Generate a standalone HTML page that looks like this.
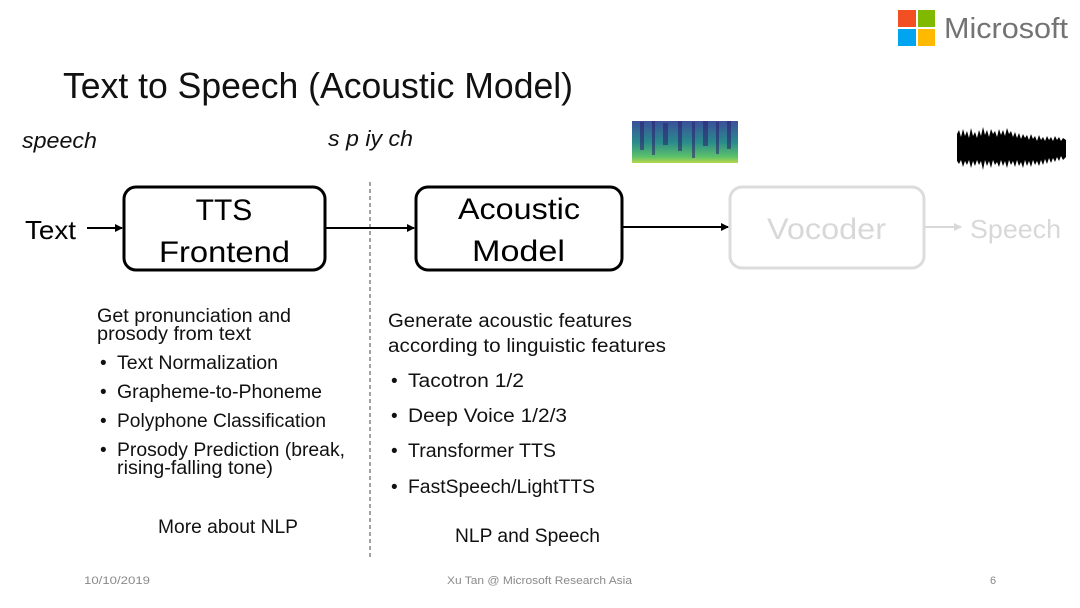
<!DOCTYPE html>
<html><head><meta charset="utf-8"><style>
html,body{margin:0;padding:0;background:#fff;width:1080px;height:608px;overflow:hidden}
svg{display:block}
text{font-family:"Liberation Sans",sans-serif}
</style></head><body>
<svg width="1080" height="608" viewBox="0 0 1080 608" xmlns="http://www.w3.org/2000/svg">
<defs>
<marker id="a" markerWidth="8" markerHeight="8" refX="7" refY="4" orient="auto" markerUnits="userSpaceOnUse"><path d="M0,0 L8,4 L0,8 z" fill="#000"/></marker>
<marker id="g" markerWidth="8" markerHeight="8" refX="7" refY="4" orient="auto" markerUnits="userSpaceOnUse"><path d="M0,0 L8,4 L0,8 z" fill="#d8d8d8"/></marker>
<linearGradient id="sp" x1="0" y1="0" x2="0" y2="1">
<stop offset="0" stop-color="#3b4f9a"/><stop offset="0.5" stop-color="#2a8a8c"/><stop offset="0.85" stop-color="#5cc06a"/><stop offset="1" stop-color="#b8d84a"/></linearGradient>
</defs>
<rect x="898" y="10" width="18" height="17" fill="#f25022"/>
<rect x="918" y="10" width="17" height="17" fill="#7fba00"/>
<rect x="898" y="29" width="18" height="17" fill="#00a4ef"/>
<rect x="918" y="29" width="17" height="17" fill="#ffb900"/>
<text x="944" y="38" font-size="29" fill="#737373" textLength="124" lengthAdjust="spacingAndGlyphs">Microsoft</text>
<text x="63" y="98" font-size="36" fill="#111" textLength="510" lengthAdjust="spacingAndGlyphs">Text to Speech (Acoustic Model)</text>
<text x="22" y="148" font-size="22" font-style="italic" fill="#111" textLength="75" lengthAdjust="spacingAndGlyphs">speech</text>
<text x="328" y="146" font-size="22" font-style="italic" fill="#111" textLength="85" lengthAdjust="spacingAndGlyphs">s p iy ch</text>
<rect x="632" y="121" width="106" height="42" fill="url(#sp)"/>
<g fill="#2a1f6e" opacity="0.55">
<rect x="640" y="122" width="4" height="28"/><rect x="652" y="121" width="3" height="34"/><rect x="663" y="123" width="5" height="22"/><rect x="678" y="121" width="4" height="30"/><rect x="692" y="122" width="3" height="36"/><rect x="703" y="121" width="5" height="25"/><rect x="716" y="122" width="3" height="32"/><rect x="727" y="121" width="4" height="28"/>
</g>
<path d="M957,134 L959,130 L961,137 L963,129 L965,136 L967,131 L969,138 L971,128 L973,136 L975,132 L977,138 L979,130 L981,136 L983,127 L985,135 L987,130 L989,137 L991,129 L993,134 L995,131 L997,137 L999,129 L1001,135 L1003,130 L1005,136 L1007,128 L1009,134 L1011,131 L1013,137 L1015,132 L1017,138 L1019,133 L1021,139 L1023,134 L1025,138 L1027,135 L1029,140 L1031,134 L1033,139 L1035,136 L1037,141 L1039,135 L1041,140 L1043,137 L1045,141 L1047,136 L1049,140 L1051,137 L1053,141 L1055,136 L1057,140 L1059,137 L1061,141 L1063,138 L1066,140 L1066,157 L1063,160 L1061,156 L1059,161 L1057,157 L1055,162 L1053,158 L1051,163 L1049,158 L1047,164 L1045,159 L1043,165 L1041,160 L1039,166 L1037,161 L1035,165 L1033,160 L1031,167 L1029,161 L1027,166 L1025,160 L1023,168 L1021,162 L1019,166 L1017,160 L1015,167 L1013,161 L1011,165 L1009,160 L1007,168 L1005,161 L1003,166 L1001,160 L999,167 L997,162 L995,165 L993,160 L991,168 L989,161 L987,166 L985,160 L983,170 L981,161 L979,165 L977,160 L975,166 L973,161 L971,168 L969,160 L967,165 L965,161 L963,167 L961,160 L959,164 L957,161 z" fill="#000"/>
<line x1="370" y1="182" x2="370" y2="560" stroke="#444" stroke-width="1" stroke-dasharray="4,3"/>
<rect x="124" y="187" width="201" height="83" rx="12" fill="none" stroke="#000" stroke-width="3"/>
<rect x="416" y="187" width="206" height="83" rx="12" fill="none" stroke="#000" stroke-width="3"/>
<rect x="730" y="187" width="194" height="81" rx="12" fill="none" stroke="#dcdcdc" stroke-width="3"/>
<text x="224" y="220" font-size="30" text-anchor="middle" fill="#000">TTS</text>
<text x="159" y="262" font-size="30" fill="#000" textLength="131" lengthAdjust="spacingAndGlyphs">Frontend</text>
<text x="458" y="219" font-size="30" fill="#000" textLength="122" lengthAdjust="spacingAndGlyphs">Acoustic</text>
<text x="472" y="261" font-size="30" fill="#000" textLength="93" lengthAdjust="spacingAndGlyphs">Model</text>
<text x="767" y="239" font-size="30" fill="#d8d8d8" textLength="119" lengthAdjust="spacingAndGlyphs">Vocoder</text>
<text x="970" y="238" font-size="26" fill="#d8d8d8" textLength="91" lengthAdjust="spacingAndGlyphs">Speech</text>
<text x="25" y="239" font-size="26" fill="#000" textLength="51" lengthAdjust="spacingAndGlyphs">Text</text>
<line x1="87" y1="228" x2="122" y2="228" stroke="#000" stroke-width="2" marker-end="url(#a)"/>
<line x1="325" y1="228" x2="414" y2="228" stroke="#000" stroke-width="2" marker-end="url(#a)"/>
<line x1="622" y1="227" x2="728" y2="227" stroke="#000" stroke-width="2" marker-end="url(#a)"/>
<line x1="925" y1="227" x2="961" y2="227" stroke="#d8d8d8" stroke-width="2" marker-end="url(#g)"/>
<g font-size="19" fill="#111">
<text x="97" y="322" textLength="194" lengthAdjust="spacingAndGlyphs">Get pronunciation and</text>
<text x="97" y="340" textLength="154" lengthAdjust="spacingAndGlyphs">prosody from text</text>
<text x="100" y="369">•</text><text x="117" y="369" textLength="161" lengthAdjust="spacingAndGlyphs">Text Normalization</text>
<text x="100" y="398">•</text><text x="117" y="398" textLength="205" lengthAdjust="spacingAndGlyphs">Grapheme-to-Phoneme</text>
<text x="100" y="427">•</text><text x="117" y="427" textLength="209" lengthAdjust="spacingAndGlyphs">Polyphone Classification</text>
<text x="100" y="456">•</text><text x="117" y="456" textLength="228" lengthAdjust="spacingAndGlyphs">Prosody Prediction (break,</text>
<text x="117" y="474" textLength="156" lengthAdjust="spacingAndGlyphs">rising-falling tone)</text>
<text x="158" y="533" textLength="140" lengthAdjust="spacingAndGlyphs">More about NLP</text>
<text x="388" y="327" textLength="244" lengthAdjust="spacingAndGlyphs">Generate acoustic features</text>
<text x="388" y="352" textLength="278" lengthAdjust="spacingAndGlyphs">according to linguistic features</text>
<text x="391" y="387">•</text><text x="408" y="387" textLength="116" lengthAdjust="spacingAndGlyphs">Tacotron 1/2</text>
<text x="391" y="422">•</text><text x="408" y="422" textLength="159" lengthAdjust="spacingAndGlyphs">Deep Voice 1/2/3</text>
<text x="391" y="457">•</text><text x="408" y="457" textLength="148" lengthAdjust="spacingAndGlyphs">Transformer TTS</text>
<text x="391" y="493">•</text><text x="408" y="493" textLength="187" lengthAdjust="spacingAndGlyphs">FastSpeech/LightTTS</text>
<text x="455" y="542" textLength="145" lengthAdjust="spacingAndGlyphs">NLP and Speech</text>
</g>
<g font-size="11" fill="#8a8a8a">
<text x="84" y="584" textLength="66" lengthAdjust="spacingAndGlyphs">10/10/2019</text>
<text x="447" y="584" textLength="185" lengthAdjust="spacingAndGlyphs">Xu Tan @ Microsoft Research Asia</text>
<text x="990" y="584">6</text>
</g>
</svg>
</body></html>
